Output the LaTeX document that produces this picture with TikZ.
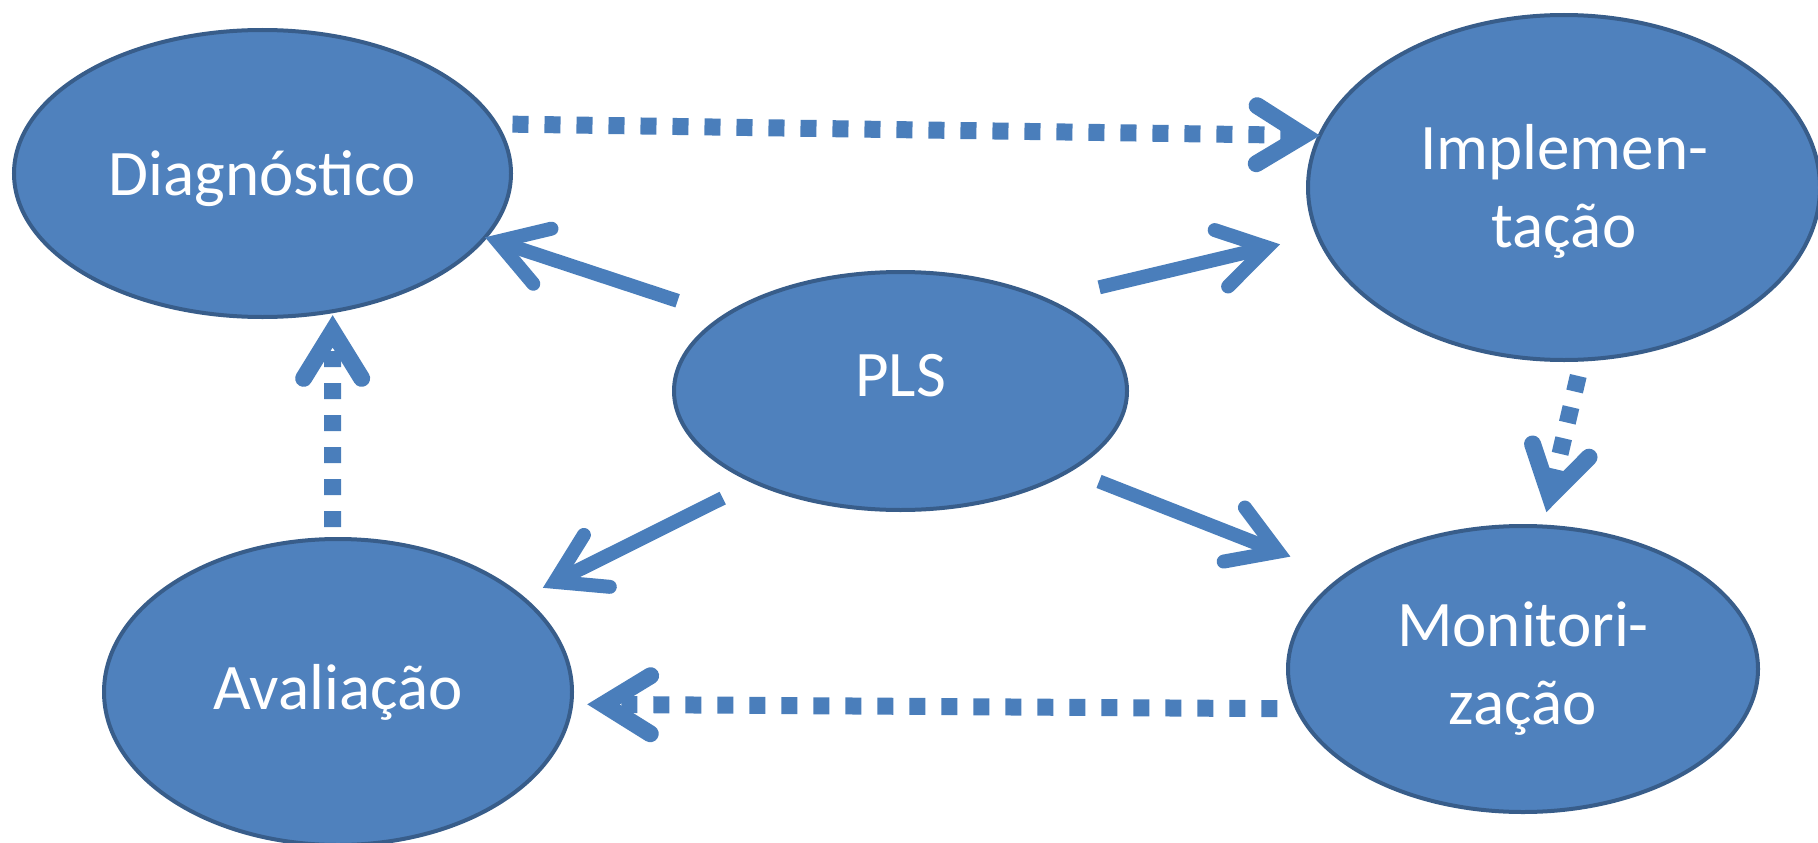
\documentclass[tikz,border=0pt]{standalone}
\usepackage{fontspec}
\setmainfont{Carlito}
\usetikzlibrary{shapes.geometric,arrows.meta}

\definecolor{blobfill}{HTML}{4F81BD}
\definecolor{blobline}{HTML}{385D8A}
\definecolor{arrowblue}{HTML}{4A7EBB}

\begin{document}
\begin{tikzpicture}[x=1pt,y=-1pt,
        blob/.style={ellipse,draw=blobline,line width=4pt,fill=blobfill,
            text=white,inner sep=0pt,outer sep=0pt,align=center,
            font=\fontsize{65}{78}\selectfont},
        barb/.tip={Straight Barb[length=47pt,width=58pt,line cap=round,line join=miter]},
        solidarrow/.style={draw=arrowblue,line width=14pt,-barb},
        dotarrow/.style={draw=arrowblue,line width=17pt,dash pattern=on 16pt off 16pt,-barb}]
    \useasboundingbox (0,0) rectangle (1818,843);

    % The five stages
    \node[blob,minimum width=497pt,minimum height=287pt,text depth=1pt] (diag) at (262.5,173.5) {Diagnóstico};
    \node[blob,minimum width=512pt,minimum height=345pt,text depth=4pt] (impl) at (1564,187.5) {Implemen-\\tação};
    \node[blob,minimum width=453pt,minimum height=238pt,text depth=31pt] (pls) at (900.5,391) {PLS};
    \node[blob,minimum width=468pt,minimum height=306pt] (aval) at (338,692) {Avaliação};
    \node[blob,minimum width=470pt,minimum height=286pt] (monit) at (1523,669) {Monitori-\\zação};

    % Solid arrows out of PLS
    \foreach \a/\to/\b/\sa/\sb in {
        157.45/diag/-16.6/49.2pt/0pt,
        32.6/impl/-169.7/54.4pt/39pt,
        -148.84/aval/27.3/35.8pt/22.7pt,
        -25.3/monit/153.1/31.3pt/56.3pt} {
        \draw[solidarrow,shorten <=\sa,shorten >=\sb] (pls.\a) -- (\to.\b);
    }

    % Dotted cycle round the outside
    \draw[dotarrow,shorten <=16.8pt] (diag.12.6) -- (impl.168.4);
    \draw[dotarrow,shorten <=16.8pt,shorten >=14.8pt] (impl.-84.5) -- (monit.82.1);
    \draw[dotarrow,shorten <=20pt,shorten >=16pt] (monit.-170.5) -- (aval.-3.7);
    \draw[dotarrow,shorten <=12pt,shorten >=4pt] (aval.92.6) -- (diag.-63.6);
\end{tikzpicture}
\end{document}
